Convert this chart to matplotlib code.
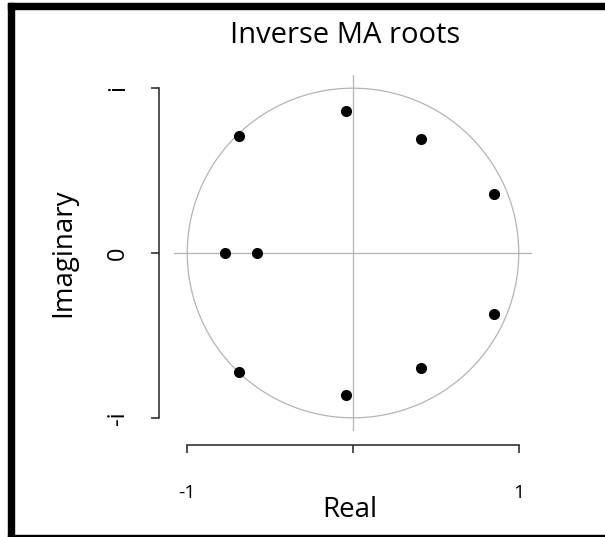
import numpy as np
import matplotlib.pyplot as plt
from matplotlib.patches import Rectangle

plt.rcParams['font.family'] = ['Open Sans', 'DejaVu Sans']

# inverse MA roots
re_part = [-0.04, -0.69, 0.41, 0.85, -0.77, -0.58, 0.85, 0.41, -0.69, -0.04]
im_part = [0.86, 0.71, 0.69, 0.36, 0.0, 0.0, -0.37, -0.70, -0.72, -0.86]

x_ticks = [-1, 0, 1]
x_labels = ['-1', '', '1']
y_ticks = [-1, 0, 1]
y_labels = ['-i', '0', 'i']

W, H = 605, 537
fig = plt.figure(figsize=(W / 100, H / 100), dpi=100)
ax = fig.add_axes([174 / W, 1 - 431 / H, 358 / W, 356 / H])

# unit circle + crosshair
t = np.linspace(0, 2 * np.pi, 400)
ax.plot(np.cos(t), np.sin(t), color='#b4b4b4', lw=0.9)
ax.axhline(0, color='#b4b4b4', lw=0.9)
ax.axvline(0, color='#b4b4b4', lw=0.9)

ax.plot(re_part, im_part, 'o', color='black', ms=7, zorder=3)

ax.set_xlim(-1.08, 1.08)
ax.set_ylim(-1.08, 1.08)

# R-style detached axes
for s in ['top', 'right']:
    ax.spines[s].set_visible(False)
ax.spines['left'].set_position(('outward', 10.8))
ax.spines['bottom'].set_position(('outward', 10.1))
ax.spines['left'].set_bounds(-1, 1)
ax.spines['bottom'].set_bounds(-1, 1)
for s in ['left', 'bottom']:
    ax.spines[s].set_color('#222222')
    ax.spines[s].set_linewidth(1.1)

ax.set_xticks(x_ticks)
ax.set_xticklabels(x_labels)
ax.set_yticks(y_ticks)
ax.set_yticklabels(y_labels, rotation=90, va='center')
ax.tick_params(axis='both', direction='out', length=6, width=1.1, color='#222222')
ax.tick_params(axis='x', pad=22, labelsize=14)
ax.tick_params(axis='y', pad=15, labelsize=17)

# title and axis labels
fig.text(345 / W, 1 - 43 / H, 'Inverse MA roots', ha='center', va='baseline', fontsize=21)
fig.text(350 / W, 1 - 517 / H, 'Real', ha='center', va='baseline', fontsize=20)
fig.text(63 / W, 1 - 253 / H, 'Imaginary', ha='center', va='center', rotation=90, fontsize=20)

# black frame around the screenshot
frame = dict(color='black', transform=None, zorder=5)
fig.patches.append(Rectangle((8, 0), 6, H - 3, **frame))
fig.patches.append(Rectangle((8, H - 9), W - 8, 6, **frame))
fig.patches.append(Rectangle((8, 0), W - 8, 2.5, **frame))

fig.savefig('out.png', dpi=100)
